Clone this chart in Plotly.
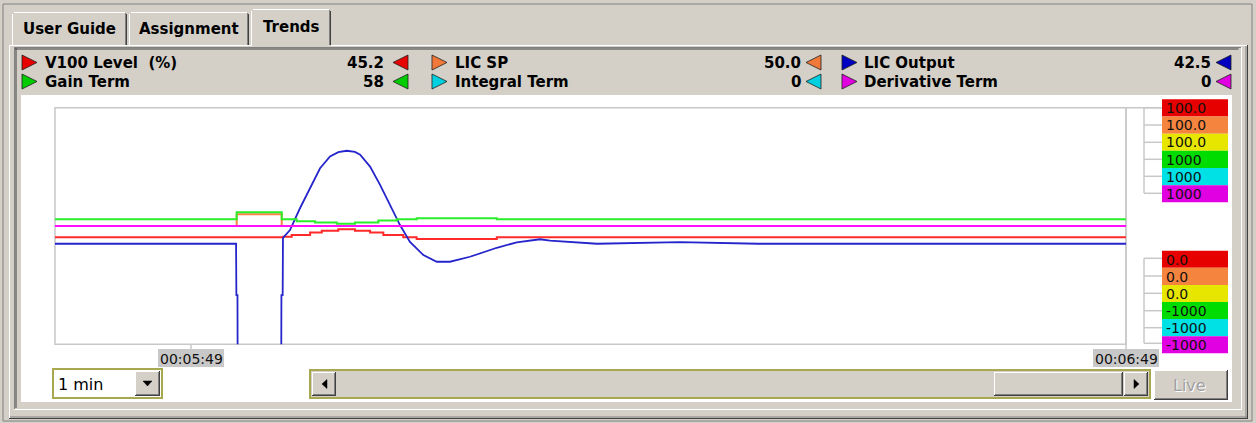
import plotly.graph_objects as go

W, H = 1256, 423
FONT = "DejaVu Sans, Verdana, sans-serif"
GRAY = "#D4D0C8"

# ---------------- data ----------------
# time in seconds since 00:00:00
x_range = [340.27, 409.0]
tick_times = [349, 409]
tick_labels = ["00:05:49", "00:06:49"]

# LIC Output (%)
out_t = [340.0, 351.89, 351.91, 351.98, 352.00, 354.78, 354.80, 354.88, 354.90,
         355.35, 355.99, 356.64, 357.28, 357.92, 358.45, 358.99, 359.52, 359.85,
         360.49, 361.13, 361.77, 362.41, 363.05, 363.91, 364.77, 365.62, 366.90,
         368.62, 369.90, 371.18, 371.40, 372.04, 373.51, 375.05, 380.38, 385.39, 410.0]
out_v = [42.5, 42.5, 20.8, 20.8, -30.0, -30.0, 20.8, 20.8, 45.0,
         48.3, 57.5, 66.0, 74.4, 79.4, 81.2, 81.8, 81.3, 80.1,
         75.1, 67.4, 58.9, 50.4, 43.3, 37.7, 34.9, 34.9, 37.0,
         40.8, 43.1, 44.4, 44.4, 43.8, 43.2, 42.5, 43.2, 42.5, 42.5]

# V100 Level (%)
lvl_t = [340.0, 354.90, 355.46, 356.64, 357.39, 358.45, 359.52, 360.49, 361.34,
         362.62, 363.48, 368.62, 410.0]
lvl_v = [45.2, 45.5, 46.2, 47.2, 48.0, 48.6, 48.0, 47.2, 46.2,
         45.2, 44.5, 45.2, 45.2]

# LIC SP (%)
sp_t = [340.0, 351.93, 354.82, 410.0]
sp_v = [50.0, 55.0, 50.0, 50.0]

# Gain Term
gain_t = [340.0, 351.93, 354.82, 355.78, 356.96, 358.35, 359.52, 361.02, 362.20,
          363.48, 368.62, 410.0]
gain_v = [58, 116, 58, 40, 29, 19, 29, 46, 58, 66, 58, 58]

# Integral / Derivative Terms
int_t = [340.0, 410.0]
int_v = [0, 0]
der_t = [340.0, 410.0]
der_v = [0, 0]

# legend rows: (name, value, colour)
legend_items = [
    ("V100 Level&nbsp; (%)", "45.2", "#E60000"),
    ("LIC SP", "50.0", "#F07838"),
    ("LIC Output", "42.5", "#0000C0"),
    ("Gain Term", "58", "#00CC00"),
    ("Integral Term", "0", "#00D0E0"),
    ("Derivative Term", "0", "#E000E0"),
]
scale_top = ["100.0", "100.0", "100.0", "1000", "1000", "1000"]
scale_bot = ["0.0", "0.0", "0.0", "-1000", "-1000", "-1000"]
scale_colors = ["#E60000", "#F5843F", "#E6E600", "#00DC00", "#00E1E6", "#E100E1"]

# ---------------- helpers ----------------
def px(x):
    return x / W

def py(y):
    return 1 - y / H

shapes = []
annotations = []

def rect(x0, y0, x1, y1, fill=None, line=None, lw=1, layer="below"):
    shapes.append(dict(type="rect", xref="paper", yref="paper",
                       x0=px(x0), x1=px(x1), y0=py(y1), y1=py(y0),
                       fillcolor=fill if fill else "rgba(0,0,0,0)",
                       line=dict(color=line if line else "rgba(0,0,0,0)", width=lw if line else 0),
                       layer=layer))

def hline(x0, x1, y, color, lw=1, layer="below"):
    shapes.append(dict(type="line", xref="paper", yref="paper",
                       x0=px(x0), x1=px(x1), y0=py(y), y1=py(y),
                       line=dict(color=color, width=lw), layer=layer))

def vline(x, y0, y1, color, lw=1, layer="below"):
    shapes.append(dict(type="line", xref="paper", yref="paper",
                       x0=px(x), x1=px(x), y0=py(y0), y1=py(y1),
                       line=dict(color=color, width=lw), layer=layer))

def poly(pts, fill, line="#000000", lw=1, layer="above"):
    d = "M " + " L ".join(f"{px(a):.6f},{py(b):.6f}" for a, b in pts) + " Z"
    shapes.append(dict(type="path", xref="paper", yref="paper", path=d,
                       fillcolor=fill, line=dict(color=line, width=lw), layer=layer))

def text(x, y, s, size=15, color="#000000", bold=False, xanchor="left"):
    annotations.append(dict(xref="paper", yref="paper", x=px(x), y=py(y),
                            text=f"<b>{s}</b>" if bold else s, showarrow=False,
                            xanchor=xanchor, yanchor="middle",
                            font=dict(family=FONT, size=size, color=color)))

def bevel(x0, y0, x1, y1, raised=True):
    hi, lo = ("#FFFFFF", "#808080") if raised else ("#808080", "#FFFFFF")
    hline(x0, x1, y0 + 0.5, hi)
    vline(x0 + 0.5, y0, y1, hi)
    hline(x0, x1, y1 - 0.5, "#404040")
    vline(x1 - 0.5, y0, y1, "#404040")
    hline(x0 + 1, x1 - 1, y1 - 1.5, lo)
    vline(x1 - 1.5, y0 + 1, y1 - 1, lo)

# ---------------- window frame ----------------
rect(3, 4, 1252, 421, line="#808080", lw=1)
# tab panel body
rect(9, 45, 1248, 419, fill=GRAY)
hline(9, 251, 45.5, "#FFFFFF")
hline(331, 1248, 45.5, "#FFFFFF")
vline(9.5, 45, 419, "#FFFFFF")
vline(1247.5, 45, 419, "#404040")
vline(1246, 46, 418, "#808080")
hline(9, 1248, 418.5, "#404040")
hline(10, 1247, 417, "#808080")
# inner sunken panel
vline(14.5, 47, 409, "#808080")
hline(14, 1242, 47.5, "#808080")
vline(1241.5, 47, 410, "#FFFFFF")
hline(14, 1242, 409.5, "#FFFFFF")
vline(16, 48, 408, "#404040")
hline(15, 1240, 49, "#404040")
vline(1239.5, 48, 409, GRAY, lw=2)

# tabs
for (x0, x1, y0, lbl, sel) in [(12, 127, 12, "User Guide", False),
                               (129, 249, 12, "Assignment", False),
                               (251, 331, 9, "Trends", True)]:
    rect(x0, y0, x1, 46 if sel else 45, fill=GRAY)
    hline(x0 + 2, x1 - 2, y0 + 0.5, "#FFFFFF")
    vline(x0 + 0.5, y0 + 2, 46 if sel else 45, "#FFFFFF")
    vline(x1 - 0.5, y0 + 2, 45, "#404040")
    vline(x1 - 1.5, y0 + 1, 45, "#808080")
    text((x0 + x1) / 2, y0 + 17 if not sel else y0 + 18, lbl, size=15, bold=True,
         xanchor="center")

# white chart panel
rect(21, 95, 1232, 402, fill="#FFFFFF")

# ---------------- legend strip ----------------
cols = [(22, 43, 386, 393), (432, 453, 803, 806), (842, 862, 1213, 1216)]
rows = [62.5, 81.5]
for i, (name, val, col) in enumerate(legend_items):
    c = cols[i % 3]
    r = rows[i // 3]
    tx, nx, vx, lx = c
    poly([(tx, r - 7.5), (tx + 15, r), (tx, r + 7.5)], col, line="#202020", lw=0.8)
    text(nx, r, name, size=15, bold=True)
    text(vx, r, val, size=15, bold=True, xanchor="right")
    poly([(lx + 15, r - 7.5), (lx, r), (lx + 15, r + 7.5)], col, line="#202020", lw=0.8)

# ---------------- plot frame & scales ----------------
PL, PR, PT, PB = 55, 1126, 107.7, 344.3
rect(PL, PT, PR, PB, line="#C8C8C8", lw=1.5)
vline(PR, PT, 352, "#C8C8C8", lw=1.5)
hline(PR, 1162, PT, "#C8C8C8", lw=1.5)

top_ticks = [107.7, 125.0, 142.3, 159.3, 176.3, 193.3]
bot_ticks = [258.3, 276.0, 293.3, 310.7, 327.7, 343.3]
vline(1144, top_ticks[0], top_ticks[-1], "#C8C8C8", lw=1.5)
vline(1144, bot_ticks[0], bot_ticks[-1], "#C8C8C8", lw=1.5)
for t in top_ticks + bot_ticks:
    hline(1144, 1162, t, "#C8C8C8", lw=1.5)
for i in range(6):
    y0 = 99.3 + i * 17.17
    rect(1162, y0, 1228, y0 + 17.17, fill=scale_colors[i], layer="above")
    text(1164, y0 + 8.8, scale_top[i], size=14, color="#101010")
    y0 = 250.7 + i * 17.1
    rect(1162, y0, 1228, y0 + 17.1, fill=scale_colors[i], layer="above")
    text(1164, y0 + 8.8, scale_bot[i], size=14, color="#101010")

# time labels
scale = (PR - PL) / (x_range[1] - x_range[0])
for tv, tl in zip(tick_times, tick_labels):
    xc = PL + (tv - x_range[0]) * scale
    if xc < PR - 1:
        vline(xc, PB, 349, "#C8C8C8", lw=1.5)
    rect(xc - 33, 349, xc + 33, 367, fill="#C8C8C8", layer="above")
    text(xc, 358.5, tl, size=14, color="#101010", xanchor="center")

# ---------------- bottom controls ----------------
rect(53, 369, 162, 398, fill="#FFFFFF", line="#A8A850", lw=2)
text(56, 384, "1 min", size=16)
rect(135, 371, 160, 396, fill=GRAY)
bevel(135, 371, 160, 396)
poly([(143, 381), (152, 381), (147.5, 386)], "#000000", line="#000000", lw=0.5)

rect(310, 370, 1150, 398, fill=GRAY, line="#A8A850", lw=2)
rect(312, 372, 336, 396, fill=GRAY)
bevel(312, 372, 336, 396)
poly([(327, 379.5), (322, 384), (327, 388.5)], "#000000", line="#000000", lw=0.5)
rect(994, 372, 1123, 396, fill=GRAY)
bevel(994, 372, 1123, 396)
rect(1124, 372, 1148, 396, fill=GRAY)
bevel(1124, 372, 1148, 396)
poly([(1134, 379.5), (1139, 384), (1134, 388.5)], "#000000", line="#000000", lw=0.5)

rect(1154, 370, 1228, 400, fill=GRAY)
bevel(1154, 370, 1228, 400)
text(1190, 386, "Live", size=16, color="#FFFFFF", xanchor="center")
text(1189, 385, "Live", size=16, color="#A0A0A0", xanchor="center")

# ---------------- traces ----------------
fig = go.Figure()
fig.add_trace(go.Scatter(x=int_t, y=int_v, yaxis="y2", mode="lines",
                         line=dict(color="#00E5EE", width=2), name="Integral Term"))
fig.add_trace(go.Scatter(x=sp_t, y=sp_v, mode="lines", line_shape="hv",
                         line=dict(color="#FF8040", width=2), name="LIC SP"))
fig.add_trace(go.Scatter(x=der_t, y=der_v, yaxis="y2", mode="lines",
                         line=dict(color="#FF10FF", width=2), name="Derivative Term"))
fig.add_trace(go.Scatter(x=lvl_t, y=lvl_v, mode="lines", line_shape="hv",
                         line=dict(color="#FF2A2A", width=2), name="V100 Level"))
fig.add_trace(go.Scatter(x=gain_t, y=gain_v, yaxis="y2", mode="lines", line_shape="hv",
                         line=dict(color="#2AEE2A", width=2), name="Gain Term"))
fig.add_trace(go.Scatter(x=out_t, y=out_v, mode="lines",
                         line=dict(color="#2525CC", width=1.8), name="LIC Output"))

fig.update_layout(
    width=W, height=H,
    margin=dict(l=0, r=0, t=0, b=0),
    paper_bgcolor=GRAY,
    plot_bgcolor="rgba(0,0,0,0)",
    showlegend=False,
    xaxis=dict(domain=[px(PL), px(PR)], range=x_range, showgrid=False, zeroline=False,
               showticklabels=False, ticks="", showline=False, fixedrange=True),
    yaxis=dict(domain=[py(PB), py(PT)], range=[0, 100], showgrid=False, zeroline=False,
               showticklabels=False, ticks="", showline=False, fixedrange=True),
    yaxis2=dict(overlaying="y", range=[-1000, 1000], visible=False, fixedrange=True),
    shapes=shapes,
    annotations=annotations,
)

fig.write_html("out.html", config={"displayModeBar": False},
               post_script="document.body.style.margin='0px';document.body.style.overflow='hidden';")
